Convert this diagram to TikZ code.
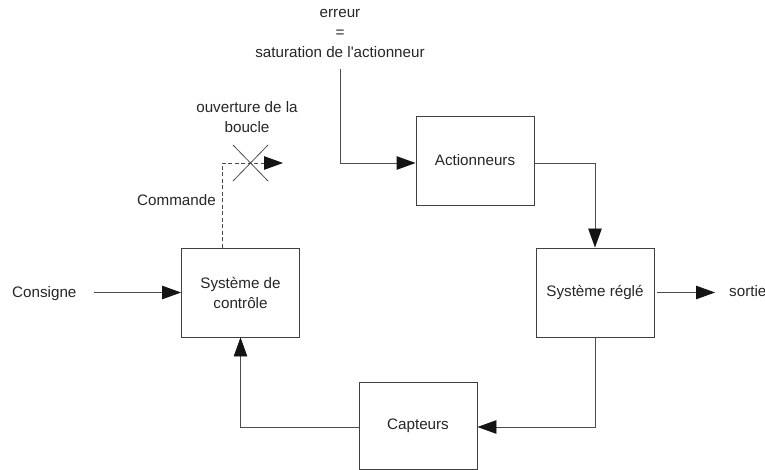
\documentclass[tikz,border=0pt]{standalone}
\usepackage{fontspec}
\setmainfont{Liberation Sans}[Ligatures=TeXOff]
\usetikzlibrary{arrows.meta}
\begin{document}
\begin{tikzpicture}[x=1pt,y=-1pt,
  font=\fontsize{15.2}{20}\selectfont,
  every node/.style={text=black!85},
  bloc/.style={draw=black!75, line width=0.9pt, minimum width=118pt, minimum height=89pt, align=center, inner sep=0pt},
  lien/.style={draw=black!70, line width=0.9pt},
  fleche/.style={lien, -{Triangle[length=19pt,width=13.5pt,color=black!92,fill=black!92]}},
  label/.style={inner sep=0pt, align=center}]
  \useasboundingbox (0,0) rectangle (765,470);

  % blocs de la boucle
  \node[bloc] (ctrl) at (240.5,292.5) {Système de\\contrôle};
  \node[bloc] (act) at (475,160.5) {Actionneurs};
  \node[bloc] (sys) at (595,292.5) {Système réglé};
  \node[bloc, minimum height=87pt] (capt) at (418,425.5) {Capteurs};

  % textes
  \node[label, anchor=west] (consigne) at (12,294) {Consigne};
  \node[label, anchor=west] (sortie) at (729,291) {sortie};
  \node[label] (err) at (340,33) {erreur\\=\\saturation de l'actionneur};
  \node[label] (ouv) at (247,117) {ouverture de la\\boucle};
  \node[label, anchor=east] (cmd) at (216,200) {Commande};

  \coordinate (errbas) at (340,69);
  \coordinate (cmdpied) at (222,248);
  \coordinate (coupure) at (283,163);
  \coordinate (sortiefin) at (715,292.5);

  % liaisons
  \draw[fleche] ([xshift=17pt]consigne.east |- ctrl.west) -- (ctrl.west);
  \draw[fleche] (errbas) |- (act.west |- 0,163);
  \draw[fleche] (act.east |- 0,163) -| (sys.north);
  \draw[fleche] ([xshift=3pt]sys.east) -- (sortiefin);
  \draw[fleche] (sys.south) |- (capt.east |- 0,427);
  \draw[fleche] (capt.west |- 0,427) -| (ctrl.south);

  % commande ouverte
  \draw[fleche, dash pattern=on 4pt off 2.5pt] (cmdpied) |- (coupure);
  \draw[draw=black!70, line width=0.8pt] (233,145) -- (268,181) (233,181) -- (268,145);
\end{tikzpicture}
\end{document}
